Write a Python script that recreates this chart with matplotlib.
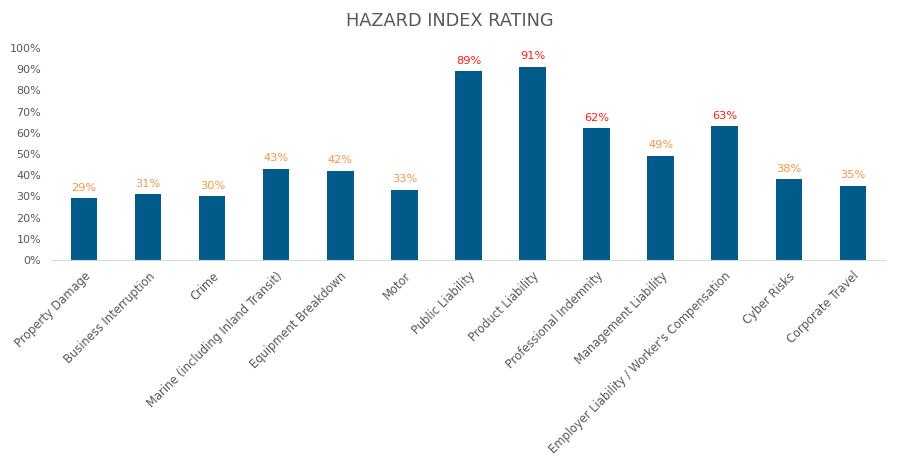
import matplotlib
matplotlib.use("Agg")
import matplotlib.pyplot as plt
from matplotlib.ticker import FuncFormatter, MultipleLocator

categories = ["Property Damage", "Business Interruption", "Crime",
              "Marine (including Inland Transit)", "Equipment Breakdown", "Motor",
              "Public Liability", "Product Liability", "Professional Indemnity",
              "Management Liability", "Employer Liability / Worker's Compensation",
              "Cyber Risks", "Corporate Travel"]
values = [29, 31, 30, 43, 42, 33, 89, 91, 62, 49, 63, 38, 35]

plt.rcParams['font.family'] = ['DejaVu Sans']

fig = plt.figure(figsize=(9, 4.7), dpi=100)
ax = fig.add_axes([0.058, 0.447, 0.925, 0.451])

x = list(range(len(categories)))
ax.bar(x, values, width=0.41, color="#005A8A", zorder=2)

for xi, v in zip(x, values):
    col = "#FF1A1A" if v >= 60 else "#F79646"
    ax.annotate(f"{v}%", (xi, v), xytext=(0, 4), textcoords="offset points",
                ha="center", va="bottom", fontsize=8.2, color=col)

ax.set_xlim(-0.5, len(categories) - 0.5)
ax.set_ylim(0, 100)
ax.yaxis.set_major_locator(MultipleLocator(10))
ax.yaxis.set_major_formatter(FuncFormatter(lambda v, p: f"{int(v)}%"))
ax.set_xticks(x)
ax.set_xticklabels(categories, rotation=45, ha="right", rotation_mode="anchor",
                   fontsize=8.3, color="#595959")
ax.tick_params(axis="y", labelsize=8, labelcolor="#595959", length=0, pad=8)
ax.tick_params(axis="x", length=0, pad=7)
for s in ["top", "right", "left"]:
    ax.spines[s].set_visible(False)
ax.spines["bottom"].set_color("#D9D9D9")

fig.text(0.5, 0.955, "HAZARD INDEX RATING", ha="center", va="center",
         fontsize=12.8, color="#595959")

fig.savefig("out.png", dpi=100)
